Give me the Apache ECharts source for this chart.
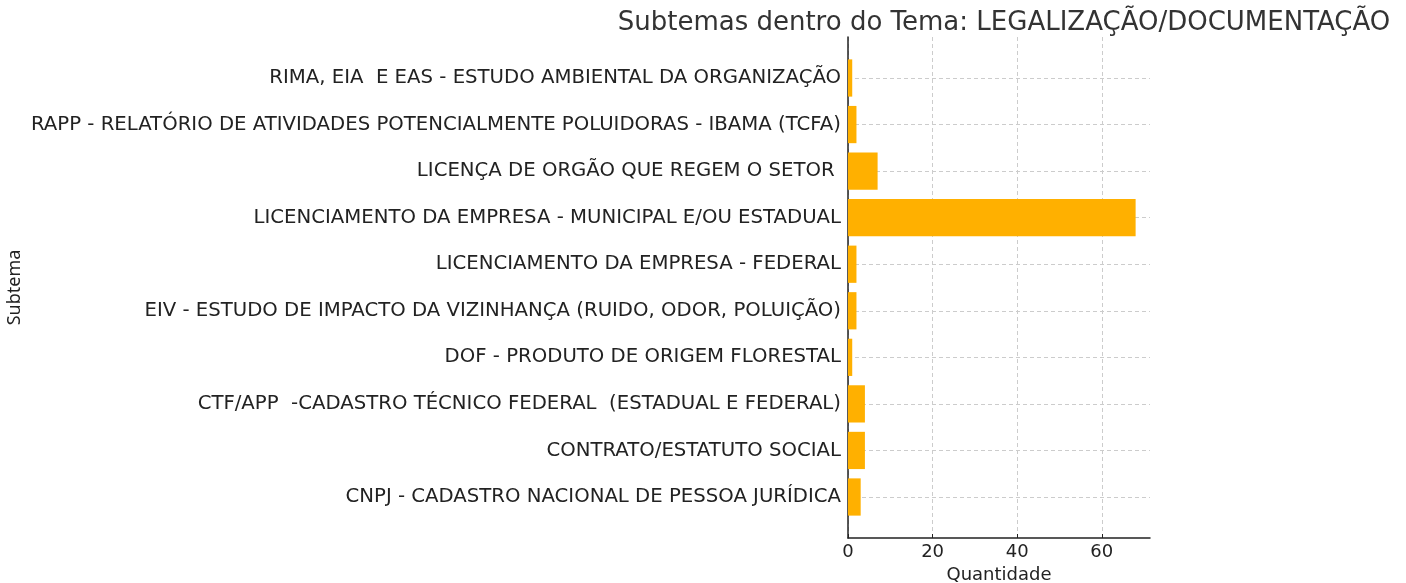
<!DOCTYPE html>
<html>
<head>
<meta charset="utf-8">
<script src="https://cdn.jsdelivr.net/npm/echarts@6/dist/echarts.min.js"></script>
<style>
html, body { margin: 0; padding: 0; background: #fff; }
#chart { width: 1406px; height: 583px; }
</style>
</head>
<body>
<div id="chart"></div>
<script>
// categories top to bottom
var subtemas = [
    'RIMA, EIA  E EAS - ESTUDO AMBIENTAL DA ORGANIZAÇÃO',
    'RAPP - RELATÓRIO DE ATIVIDADES POTENCIALMENTE POLUIDORAS - IBAMA (TCFA)',
    'LICENÇA DE ORGÃO QUE REGEM O SETOR ',
    'LICENCIAMENTO DA EMPRESA - MUNICIPAL E/OU ESTADUAL',
    'LICENCIAMENTO DA EMPRESA - FEDERAL',
    'EIV - ESTUDO DE IMPACTO DA VIZINHANÇA (RUIDO, ODOR, POLUIÇÃO)',
    'DOF - PRODUTO DE ORIGEM FLORESTAL',
    'CTF/APP  -CADASTRO TÉCNICO FEDERAL  (ESTADUAL E FEDERAL)',
    'CONTRATO/ESTATUTO SOCIAL',
    'CNPJ - CADASTRO NACIONAL DE PESSOA JURÍDICA'
];
var quantidade = [1, 2, 7, 68, 2, 2, 1, 4, 4, 3];
var xMax = 71.4;

var myChart = echarts.init(document.getElementById('chart'));

var font = 'DejaVu Sans';
var dark = '#222222';

var option = {
    animation: false,
    title: {
        text: 'Subtemas dentro do Tema: LEGALIZAÇÃO/DOCUMENTAÇÃO',
        left: 999,
        textAlign: 'center',
        top: 5,
        textStyle: { fontFamily: font, fontSize: 26, fontWeight: 'normal', color: '#333333' }
    },
    grid: [
        // outer frame: spines, x ticks, vertical grid
        { left: 848, right: 256, top: 37, bottom: 45, outerBoundsMode: 'none', containLabel: false },
        // inner: categories centred from first to last
        { left: 848, right: 256, top: 78, bottom: 86, outerBoundsMode: 'none', containLabel: false }
    ],
    xAxis: [{
        gridIndex: 0,
        type: 'value',
        min: 0,
        max: xMax,
        interval: 20,
        name: 'Quantidade',
        nameLocation: 'middle',
        nameGap: 26,
        nameTextStyle: { fontFamily: font, fontSize: 18, color: dark },
        axisLine: { show: true, lineStyle: { color: dark, width: 1.5 } },
        axisTick: { show: true, inside: true, length: 4, lineStyle: { color: dark } },
        axisLabel: { fontFamily: font, fontSize: 18, color: dark, margin: 5, showMaxLabel: false },
        splitLine: { show: true, showMaxLine: false, lineStyle: { color: '#cccccc', type: [4, 3], width: 1 } }
    }, {
        gridIndex: 1,
        type: 'value',
        min: 0,
        max: xMax,
        show: false,
        splitLine: { show: false }
    }],
    yAxis: [{
        gridIndex: 0,
        type: 'value',
        min: 0,
        max: 1,
        name: 'Subtema',
        nameLocation: 'middle',
        nameRotate: 90,
        nameGap: 824,
        nameTextStyle: { fontFamily: 'Noto Sans', fontSize: 18, color: dark },
        axisLine: { show: true, lineStyle: { color: dark, width: 1.5 } },
        axisTick: { show: false },
        axisLabel: { show: false },
        splitLine: { show: false }
    }, {
        gridIndex: 1,
        type: 'category',
        data: subtemas,
        inverse: true,
        boundaryGap: false,
        axisLine: { show: false },
        axisTick: { show: true, inside: true, length: 4, lineStyle: { color: dark } },
        axisLabel: { fontFamily: font, fontSize: 19.7, color: dark, margin: 7, interval: 0, padding: [4, 0, 0, 0] },
        splitLine: { show: true, lineStyle: { color: '#cccccc', type: [4, 3], width: 1 } }
    }],
    series: [{
        name: 'Quantidade',
        type: 'bar',
        xAxisIndex: 1,
        yAxisIndex: 1,
        data: quantidade,
        barWidth: '80%',
        clip: false,
        itemStyle: { color: '#FFB000' }
    }]
};

myChart.setOption(option);
</script>
</body>
</html>
